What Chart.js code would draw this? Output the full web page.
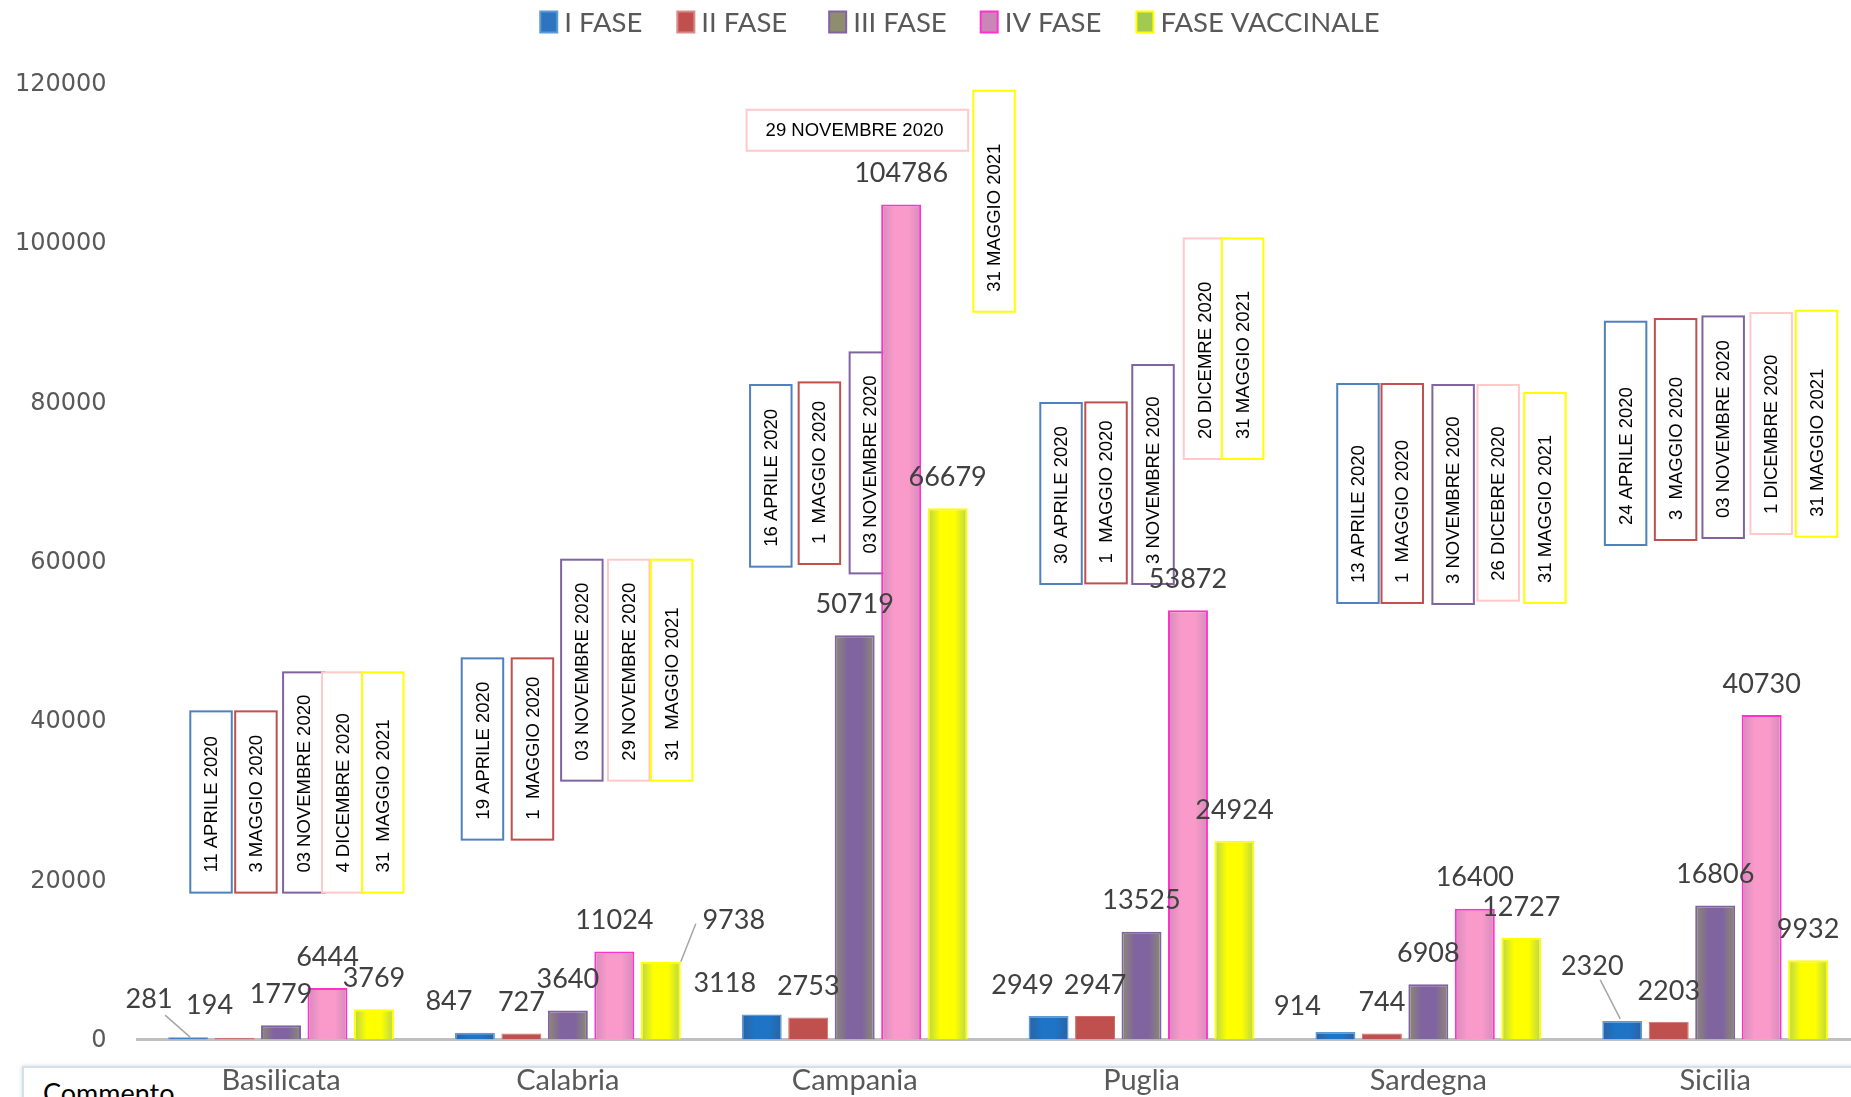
<!DOCTYPE html>
<html><head><meta charset="utf-8">
<script src="https://cdn.jsdelivr.net/npm/chart.js@4/dist/chart.umd.min.js"></script>
<style>
html,body{margin:0;padding:0;background:#fff;overflow:hidden;width:1851px;height:1097px;}
#comment{position:absolute;left:22px;top:1066px;width:1900px;height:80px;border:2px solid #D3E2EA;box-shadow:0 0 4px rgba(120,140,160,0.35);background:#fff;}
#commentText{position:absolute;left:43px;top:1079px;font-family:Lato,sans-serif;font-size:27px;line-height:27px;color:#000;}
#c{position:absolute;left:0;top:0;}
</style></head><body>
<div id="comment"></div><div id="commentText">Commento</div>
<canvas id="c" width="1920" height="1097"></canvas>
<script>
// ---- data ----
const categories = ['Basilicata','Calabria','Campania','Puglia','Sardegna','Sicilia'];
const seriesNames = ['I FASE','II FASE','III FASE','IV FASE','FASE VACCINALE'];
const faseI     = [281, 847, 3118, 2949, 914, 2320];
const faseII    = [194, 727, 2753, 2947, 744, 2203];
const faseIII   = [1779, 3640, 50719, 13525, 6908, 16806];
const faseIV    = [6444, 11024, 104786, 53872, 16400, 40730];
const faseVacc  = [3769, 9738, 66679, 24924, 12727, 9932];
const yMin = 0, yMax = 120000, yStep = 20000;

// date annotations per region (one per series)
const dateTexts = [
  ['11 APRILE 2020','3 MAGGIO 2020','03 NOVEMBRE 2020','4 DICEMBRE 2020','31  MAGGIO 2021'],
  ['19 APRILE 2020','1  MAGGIO 2020','03 NOVEMBRE 2020','29 NOVEMBRE 2020','31  MAGGIO 2021'],
  ['16 APRILE 2020','1  MAGGIO 2020','03 NOVEMBRE 2020','29 NOVEMBRE 2020','31 MAGGIO 2021'],
  ['30 APRILE 2020','1  MAGGIO 2020','3 NOVEMBRE 2020','20 DICEMRE 2020','31 MAGGIO 2021'],
  ['13 APRILE 2020','1  MAGGIO 2020','3 NOVEMBRE 2020','26 DICEBRE 2020','31 MAGGIO 2021'],
  ['24 APRILE 2020','3  MAGGIO 2020','03 NOVEMBRE 2020','1 DICEMBRE 2020','31 MAGGIO 2021']
];
const dateTop = [
  [41177,41177,46071,46071,46071],
  [47828,47828,60213,60213,60213],
  [82140,82466,86232,116690,119074],
  [79882,79957,84651,100538,100538],
  [82265,82265,82140,82140,81136],
  [90085,90424,90750,91176,91464]
];
const dateBottom = [
  [18424,18424,18424,18424,18424],
  [25075,25075,32478,32478,32478],
  [59337,59676,58496,111545,91340],
  [57165,57241,57165,72853,72853],
  [54781,54781,54656,55070,54781],
  [62060,62687,62938,63440,63100]
];

// ---- layout / style (not data) ----
const boxOffset = [
  [-0.244,-0.0875,0.0795,0.2154,0.3548],
  [-0.2977,-0.1234,0.0488,0.2123,0.3618],
  [-0.2924,-0.123,0.0547,0.0094,0.4859],
  [-0.2806,-0.1237,0.0401,0.2196,0.3524],
  [-0.2454,-0.091,0.0864,0.2436,0.4064],
  [-0.3123,-0.138,0.0279,0.1952,0.3534]
];
const boxWidthFrac = 0.1446;
const horizontalBox = {'2,3': 0.7724};
const boxColors = ['#4F81BD','#C0504D','#8064A2','#FFC9C9','#FFFF00'];

const barCenter = ['#1E74C6','#C0504D','#80649F','#F99ACA','#FFFF00'];
const barEdge   = ['#2A62A4','#C0504D','#8C8C70','#D58ABC','#B6D44A'];
const barBorder = ['#5B9BD5','#CF6E6B','#8064A2','#FF33CC','#FFFF00'];
const barBorderW = [1.5,1,2,2,2];
const legendFill   = ['#2E75C0','#C0504D','#8E8E6E','#C987B8','#A2C952'];
const legendBorder = ['#5B9BD5','#D98A88','#8064A2','#FF33CC','#FFFF00'];
const legendGaps = [35,42,34,35];

// label shifts (px) keyed 'series,category'
const labelShift = {'0,0':[-39,-7],'1,0':[-25,-2],'0,1':[-26,0],'4,1':[73,-11],'0,2':[-37,0],'0,3':[-26,0],'0,4':[-38,5],'0,5':[-30,-24]};
const leaders = {'0,0':[16,16,2,0],'4,1':[-38,4,20,0],'0,5':[8,14,-2,-2]};

const seriesValues = [faseI, faseII, faseIII, faseIV, faseVacc];

const shadePlugin = {
  id:'shade',
  beforeDatasetsDraw(chart){
    const ctx = chart.ctx;
    const xs = chart.scales.x, ys = chart.scales.y;
    const catW = xs.getPixelForValue(1) - xs.getPixelForValue(0);
    ctx.save();
    for (let r=0;r<categories.length;r++){
      for (let s=0;s<seriesNames.length;s++){
        const hw = horizontalBox[r+','+s];
        const cx = xs.getPixelForValue(r) + boxOffset[r][s]*catW;
        const w = (hw || boxWidthFrac) * catW;
        const yT = ys.getPixelForValue(dateTop[r][s]);
        const yB = ys.getPixelForValue(dateBottom[r][s]);
        const x0 = cx - w/2;
        ctx.fillStyle='#fff';
        ctx.fillRect(x0,yT,w,yB-yT);
        ctx.strokeStyle=boxColors[s]; ctx.lineWidth=2;
        ctx.strokeRect(x0,yT,w,yB-yT);
        ctx.fillStyle='#000';
        ctx.font='18.5px "Liberation Sans", Arial, sans-serif';
        ctx.textAlign='left'; ctx.textBaseline='middle';
        if (hw){
          ctx.fillText(dateTexts[r][s], x0+19, (yT+yB)/2+1);
        } else {
          ctx.save(); ctx.translate(cx, yB-20); ctx.rotate(-Math.PI/2);
          ctx.fillText(dateTexts[r][s], 0, 1);
          ctx.restore();
        }
      }
    }
    ctx.restore();
    chart.data.datasets.forEach((ds,i)=>{
      const meta = chart.getDatasetMeta(i);
      meta.data.forEach(el=>{
        const x0 = el.x - el.width/2, x1 = el.x + el.width/2;
        const g = ctx.createLinearGradient(x0,0,x1,0);
        g.addColorStop(0,barEdge[i]); g.addColorStop(0.32,barCenter[i]);
        g.addColorStop(0.68,barCenter[i]); g.addColorStop(1,barEdge[i]);
        el.options = Object.assign({}, el.options, {backgroundColor:g});
      });
    });
  },
  afterDatasetsDraw(chart){
    const ctx = chart.ctx;
    ctx.save();
    ctx.font='27px Lato, sans-serif';
    ctx.fillStyle='#404040';
    ctx.textAlign='center'; ctx.textBaseline='middle';
    chart.data.datasets.forEach((ds,i)=>{
      const meta = chart.getDatasetMeta(i);
      meta.data.forEach((el,j)=>{
        const key = i+','+j;
        const sh = labelShift[key] || [0,0];
        const lx = el.x + sh[0], ly = el.y - 31 + sh[1];
        if (leaders[key]){
          const L = leaders[key];
          ctx.strokeStyle='#A6A6A6'; ctx.lineWidth=1.5;
          ctx.beginPath(); ctx.moveTo(lx+L[0], ly+L[1]); ctx.lineTo(el.x+L[2], el.y+L[3]); ctx.stroke();
        }
        ctx.fillText(String(ds.data[j]), lx, ly);
      });
    });
    ctx.restore();
  },
  afterDraw(chart){
    const ctx = chart.ctx;
    ctx.save();
    ctx.font='27.5px Lato, sans-serif';
    const bw=17, bh=21, gap=7;
    const widths = seriesNames.map(n=>ctx.measureText(n).width);
    let total = widths.reduce((a,w)=>a+bw+gap+w,0);
    legendGaps.forEach(g=>total+=g);
    let x = chart.width/2 - total/2;
    const yc = 22;
    seriesNames.forEach((n,i)=>{
      ctx.fillStyle=legendFill[i];
      ctx.fillRect(x, yc-bh/2, bw, bh);
      ctx.strokeStyle=legendBorder[i]; ctx.lineWidth=2;
      ctx.strokeRect(x, yc-bh/2, bw, bh);
      ctx.fillStyle='#595959'; ctx.textAlign='left'; ctx.textBaseline='middle';
      ctx.fillText(n, x+bw+gap, yc+1);
      x += bw+gap+widths[i]+(legendGaps[i]||0);
    });
    ctx.restore();
  }
};

function build(){
  new Chart(document.getElementById('c'), {
    type:'bar',
    data:{
      labels: categories,
      datasets: seriesNames.map((n,i)=>({
        label:n, data:seriesValues[i],
        backgroundColor:barCenter[i], borderColor:barBorder[i], borderWidth:barBorderW[i],
        categoryPercentage:0.81, barPercentage:0.86
      }))
    },
    options:{
      responsive:false, animation:false, devicePixelRatio:1,
      layout:{padding:{top:83.4,right:61.4,left:0,bottom:0}},
      plugins:{legend:{display:false}, tooltip:{enabled:false}},
      scales:{
        x:{
          grid:{display:false, drawTicks:false},
          border:{display:true, color:'#BFBFBF', width:3},
          ticks:{font:{family:'Lato', size:29}, color:'#595959', padding:23.5},
          afterFit(s){ s.height = 57.6; }
        },
        y:{
          min:yMin, max:yMax,
          grid:{display:false, drawTicks:false},
          border:{display:false},
          ticks:{stepSize:yStep, font:{family:'"DejaVu Sans"', size:24}, color:'#595959', padding:31,
                 labelOffset:1.5, callback:v=>String(v)},
          afterFit(s){ s.width = 137.6; }
        }
      }
    },
    plugins:[shadePlugin]
  });
}
if (document.fonts && document.fonts.load){
  Promise.all([document.fonts.load('27px Lato'), document.fonts.load('24px "DejaVu Sans"'), document.fonts.load('18px "Liberation Sans"')])
    .then(build, build);
} else build();
</script>
</body></html>
